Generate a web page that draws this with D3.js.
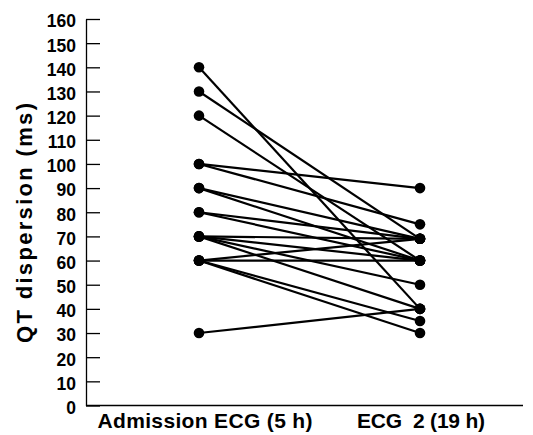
<!DOCTYPE html>
<html>
<head>
<meta charset="utf-8">
<script src="https://cdn.jsdelivr.net/npm/d3@7"></script>
<style>
  body { margin: 0; background: #fff; }
  svg { display: block; }
  .lbl { font-family: "Liberation Sans", Arial, Helvetica, sans-serif; font-weight: bold; fill: #000; }
  .axis text { font-family: "Liberation Sans", Arial, Helvetica, sans-serif; font-weight: bold; font-size: 17.5px; fill: #000; }
  .axis path, .axis line { stroke: #000; stroke-width: 1.3; }
</style>
</head>
<body>
<script>
/* QT dispersion, admission ECG vs second ECG — one line per patient */

const categories = ['Admission ECG (5 h)', 'ECG  2 (19 h)'];
const admission  = [140, 130, 120, 100, 100, 90, 90, 80, 80, 70, 70, 70, 70, 60, 60, 60, 60, 30];
const ecg2       = [ 40,  69,  60,  90,  75, 69, 60, 69, 60, 69, 60, 50, 40, 69, 60, 35, 30, 40];
const yTicks     = [0, 10, 20, 30, 40, 50, 60, 70, 80, 90, 100, 110, 120, 130, 140, 150, 160];
const yTitle     = 'QT dispersion (ms)';

const W = 533, H = 435;
const axisX = 86, axisRight = 523;
const labelNudge = [6, 1];        // x labels sit slightly off the dot column
const labelLen   = [215, 128];

const svg = d3.select('body').append('svg')
  .attr('width', W).attr('height', H);

const x = d3.scalePoint().domain(categories).range([199, 420]);
const y = d3.scaleLinear().domain([0, 160]).range([405.5, 19]);

/* ---- axes ---------------------------------------------------------------- */
const gy = svg.append('g')
  .attr('class', 'axis')
  .attr('transform', `translate(${axisX},0)`)
  .call(d3.axisLeft(y).tickValues(yTicks).tickSizeInner(-14).tickSizeOuter(0).tickPadding(10));
gy.selectAll('text').attr('dy', '0.45em');

svg.append('line')
  .attr('x1', axisX).attr('x2', axisRight)
  .attr('y1', y(0)).attr('y2', y(0))
  .attr('stroke', '#000').attr('stroke-width', 1.3);

svg.selectAll('text.xlab').data(categories).enter().append('text')
  .attr('class', 'lbl xlab')
  .attr('x', (d, i) => x(d) + labelNudge[i])
  .attr('y', 427.5)
  .attr('text-anchor', 'middle')
  .attr('font-size', 21)
  .attr('textLength', (d, i) => labelLen[i])
  .attr('lengthAdjust', 'spacing')
  .style('white-space', 'pre')
  .text(d => d);

svg.append('text')
  .attr('class', 'lbl')
  .attr('transform', 'translate(32,223) rotate(-90)')
  .attr('text-anchor', 'middle')
  .attr('font-size', 22)
  .attr('textLength', 240)
  .attr('lengthAdjust', 'spacing')
  .text(yTitle);

/* ---- patient lines + dots ----------------------------------------------- */
const pairs = admission.map((a, i) => ({ a, b: ecg2[i] }));

svg.append('g').selectAll('line').data(pairs).enter().append('line')
  .attr('x1', x(categories[0])).attr('y1', d => y(d.a))
  .attr('x2', x(categories[1])).attr('y2', d => y(d.b))
  .attr('stroke', '#000').attr('stroke-width', 2.2);

const dots = [];
pairs.forEach(p => {
  dots.push({ c: categories[0], v: p.a });
  dots.push({ c: categories[1], v: p.b });
});
svg.append('g').selectAll('circle').data(dots).enter().append('circle')
  .attr('cx', d => x(d.c)).attr('cy', d => y(d.v))
  .attr('r', 5.3).attr('fill', '#000');
</script>
</body>
</html>
